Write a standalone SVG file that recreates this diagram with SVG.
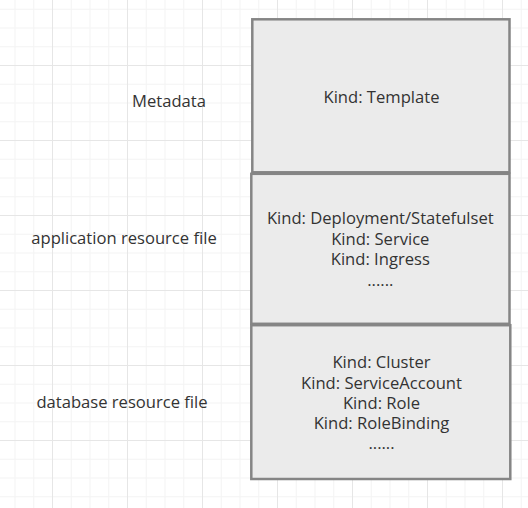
<svg xmlns="http://www.w3.org/2000/svg" width="528" height="508" viewBox="0 0 528 508">
  <defs>
    <pattern id="grid" patternUnits="userSpaceOnUse" x="52" y="65" width="75" height="75">
      <rect x="18.75" y="0" width="1" height="75" fill="#f3f3f3"/>
      <rect x="37.5" y="0" width="1" height="75" fill="#f3f3f3"/>
      <rect x="56.25" y="0" width="1" height="75" fill="#f3f3f3"/>
      <rect x="0" y="18.75" width="75" height="1" fill="#f3f3f3"/>
      <rect x="0" y="37.5" width="75" height="1" fill="#f3f3f3"/>
      <rect x="0" y="56.25" width="75" height="1" fill="#f3f3f3"/>
      <rect x="0" y="0" width="1" height="75" fill="#e6e6e6"/>
      <rect x="0" y="0" width="75" height="1" fill="#e6e6e6"/>
    </pattern>
    <style>
      .box { fill: #ebebeb; stroke: #858585; stroke-width: 2.5; }
      .t { font-family: "Open Sans", "Noto Sans", "DejaVu Sans", sans-serif; font-size: 16.6px; fill: #333333; text-anchor: middle; }
    </style>
  </defs>
  <rect x="0" y="0" width="528" height="508" fill="#ffffff"/>
  <rect x="0" y="0" width="528" height="508" fill="url(#grid)"/>

  <g id="label-metadata">
    <text class="t" x="169" y="107">Metadata</text>
  </g>
  <g id="label-application">
    <text class="t" x="124" y="243.5">application resource file</text>
  </g>
  <g id="label-database">
    <text class="t" x="122" y="408">database resource file</text>
  </g>

  <g id="node-template">
    <rect class="box" x="252.3" y="19.3" width="257.2" height="153"/>
    <text class="t" x="381.5" y="102.5">Kind: Template</text>
  </g>
  <g id="node-application">
    <rect class="box" x="251.3" y="173.8" width="258.2" height="150"/>
    <text class="t" x="380.3" y="224">Kind: Deployment/Statefulset</text>
    <text class="t" x="380.3" y="244.5">Kind: Service</text>
    <text class="t" x="380.3" y="265">Kind: Ingress</text>
    <text class="t" x="380.3" y="285.5">......</text>
  </g>
  <g id="node-database">
    <rect class="box" x="251.3" y="325.2" width="259" height="153.8"/>
    <text class="t" x="381.5" y="368.3">Kind: Cluster</text>
    <text class="t" x="381.5" y="388.5">Kind: ServiceAccount</text>
    <text class="t" x="381.5" y="408.7">Kind: Role</text>
    <text class="t" x="381.5" y="428.9">Kind: RoleBinding</text>
    <text class="t" x="381.5" y="449.1">......</text>
  </g>

  <g id="connectors"></g>
</svg>
